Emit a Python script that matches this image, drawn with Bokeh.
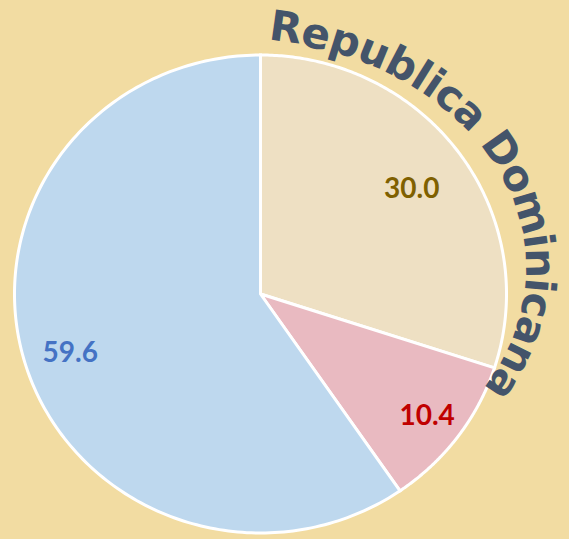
import numpy as np
from bokeh.plotting import figure
from bokeh.models import Range1d, ColumnDataSource
from bokeh.core.properties import value
from bokeh.embed import file_html
from bokeh.resources import INLINE

# ---- data ----
categories = ["Segmento 1", "Segmento 2", "Segmento 3"]
values = [30.0, 10.4, 59.6]
labels = ["30.0", "10.4", "59.6"]
title_text = "Republica Dominicana"

# ---- styles ----
slice_colors = ["#EEE0C3", "#E9BAC1", "#BED8EE"]
label_colors = ["#7F6000", "#C00000", "#4472C4"]
label_radius = [0.76, 0.845, 0.81]
bg = "#F2DCA2"
title_color = "#44546A"

# ---- layout (reference pixel space) ----
REF_W, REF_H = 569, 539
W, H = 569, 539
pcx, pcy = 260.0, REF_H - 293.5
prx, pry = 246.0, 239.0

p = figure(width=W, height=H, x_range=Range1d(0, REF_W), y_range=Range1d(0, REF_H),
           output_backend="svg", toolbar_location=None, min_border=0,
           x_axis_location=None, y_axis_location=None)
p.grid.visible = False
p.outline_line_color = None
p.background_fill_color = bg
p.border_fill_color = bg

# pie slices (elliptical, clockwise from 12 o'clock)
vals = np.array(values)
cum = np.concatenate([[0], np.cumsum(vals)]) / vals.sum()
starts = np.pi / 2 - 2 * np.pi * cum[:-1]
ends = np.pi / 2 - 2 * np.pi * cum[1:]
xs, ys = [], []
for a0, a1 in zip(starts, ends):
    th = np.linspace(a0, a1, 200)
    xs.append(np.concatenate([[pcx], pcx + prx * np.cos(th)]).tolist())
    ys.append(np.concatenate([[pcy], pcy + pry * np.sin(th)]).tolist())
p.patches(xs, ys, fill_color=slice_colors, line_color="white", line_width=3,
          line_join="miter")

# data labels
mids = (starts + ends) / 2
lx = pcx + prx * np.array(label_radius) * np.cos(mids)
ly = pcy + pry * np.array(label_radius) * np.sin(mids)
p.text(x=lx, y=ly, text=labels, text_color=label_colors,
       text_font=value("Lato"), text_font_style="bold", text_font_size="28px",
       text_align="center", text_baseline="middle")

# curved title along an elliptical arch
ecx, ecy = 232.0, REF_H - 268.0
ea, eb = 308.0, 245.0
t0, t1 = np.radians(80.0), np.radians(-28.4)
fs_px = 42
adv = {"R": .77, "e": .68, "p": .72, "u": .71, "b": .72, "l": .34, "i": .34,
       "c": .59, "a": .68, " ": .35, "D": .83, "o": .69, "m": 1.04, "n": .71}
w = np.array([adv.get(ch, .65) for ch in title_text])
centers = np.cumsum(w) - w / 2
tg = np.linspace(t0, t1, 4000)
speed = np.sqrt((ea * np.sin(tg)) ** 2 + (eb * np.cos(tg)) ** 2)
s = np.concatenate([[0], np.cumsum((speed[1:] + speed[:-1]) / 2 * np.abs(np.diff(tg)))])
si = (centers - centers[0]) / (centers[-1] - centers[0]) * s[-1]
ti = np.interp(si, s, tg)
px_ = ecx + ea * np.cos(ti)
py_ = ecy + eb * np.sin(ti)
nx = eb * np.cos(ti)
ny = ea * np.sin(ti)
nn = np.sqrt(nx ** 2 + ny ** 2)
off = 0.0
bx = px_ - off * nx / nn
by = py_ - off * ny / nn
ang = np.arctan2(-eb * np.cos(ti), ea * np.sin(ti))
keep = [i for i, ch in enumerate(title_text) if ch != " "]
src = ColumnDataSource(dict(x=bx[keep], y=by[keep], text=[title_text[i] for i in keep],
                            angle=ang[keep]))
p.text(x="x", y="y", text="text", angle="angle", source=src,
       text_color=title_color, text_font=value("DejaVu Sans"), text_font_style="bold",
       text_font_size=f"{fs_px}px", text_align="center", text_baseline="alphabetic")

html = file_html(p, INLINE)
html = html.replace("</head>", "<style>html,body{background:#F2DCA2;}</style></head>", 1)
open("out.html", "w").write(html)
